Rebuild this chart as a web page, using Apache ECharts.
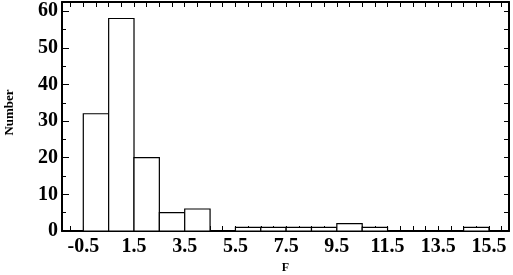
<!DOCTYPE html>
<html>
<head>
<meta charset="utf-8">
<script src="https://cdn.jsdelivr.net/npm/echarts@6/dist/echarts.min.js"></script>
<style>html,body{margin:0;padding:0;background:#fff}#c{width:513px;height:275px}</style>
</head>
<body>
<div id="c"></div>
<script>
// Histogram data: bin lower edges (width 1) and counts
var binStarts = [-0.5, 0.5, 1.5, 2.5, 3.5, 4.5, 5.5, 6.5, 7.5, 8.5, 9.5, 10.5, 11.5, 12.5, 13.5, 14.5];
var counts    = [32, 58, 20, 5, 6, 0, 1, 1, 1, 1, 2, 1, 0, 0, 0, 1];
var binWidth = 1;
var xLabels = [-0.5, 1.5, 3.5, 5.5, 7.5, 9.5, 11.5, 13.5, 15.5];
var xTicks = [];
for (var t = -1; t <= 16; t += 0.5) xTicks.push(t);
var yLabels = [0, 10, 20, 30, 40, 50, 60];
var yMinorTicks = [5, 15, 25, 35, 45, 55];
var yAllTicks = [0, 5, 10, 15, 20, 25, 30, 35, 40, 45, 50, 55, 60];

var XMIN = -1.34, XMAX = 16.29, YMAX = 62.5;
var font = 'Liberation Serif';
var lineStyle = {color: '#000', width: 2};

var data = binStarts.map(function (s, i) { return [s, s + binWidth, counts[i]]; });

var chart = echarts.init(document.getElementById('c'));
chart.setOption({
  animation: false,
  backgroundColor: '#fff',
  grid: {left: 62, top: 2, width: 447, height: 229, containLabel: false, outerBoundsMode: 'none'},
  xAxis: [{
    type: 'value', min: XMIN, max: XMAX, position: 'bottom',
    axisLine: {show: true, onZero: false, lineStyle: lineStyle},
    axisTick: {show: true, inside: true, length: 5, customValues: xTicks, lineStyle: {color: '#000', width: 1}},
    axisLabel: {customValues: xLabels, color: '#000', fontFamily: font, fontWeight: 'bold', fontSize: 20, margin: 6},
    splitLine: {show: false},
    name: 'F', nameLocation: 'middle', nameGap: 28,
    nameTextStyle: {color: '#000', fontFamily: font, fontWeight: 'bold', fontSize: 12, padding: [0, 0, 3, 0]}
  }, {
    type: 'value', min: XMIN, max: XMAX, position: 'top',
    axisLine: {show: true, onZero: false, lineStyle: lineStyle},
    axisTick: {show: true, inside: true, length: 5, customValues: xTicks, lineStyle: {color: '#000', width: 1}},
    axisLabel: {show: false},
    splitLine: {show: false}
  }],
  yAxis: [{
    type: 'value', min: 0, max: YMAX, position: 'left',
    axisLine: {show: true, onZero: false, lineStyle: lineStyle},
    axisTick: {show: true, inside: true, length: 7, customValues: yLabels, lineStyle: {color: '#000', width: 1}},
    axisLabel: {customValues: yLabels, color: '#000', fontFamily: font, fontWeight: 'bold', fontSize: 20, margin: 4},
    splitLine: {show: false},
    name: 'Number', nameLocation: 'middle', nameRotate: 90, nameGap: 46,
    nameTextStyle: {color: '#000', fontFamily: font, fontWeight: 'bold', fontSize: 13, padding: [0, 0, 0, 8]}
  }, {
    type: 'value', min: 0, max: YMAX, position: 'left',
    axisLine: {show: false, onZero: false},
    axisTick: {show: true, inside: true, length: 4, customValues: yMinorTicks, lineStyle: {color: '#000', width: 1}},
    axisLabel: {show: false},
    splitLine: {show: false}
  }, {
    type: 'value', min: 0, max: YMAX, position: 'right',
    axisLine: {show: true, onZero: false, lineStyle: lineStyle},
    axisTick: {show: true, inside: true, length: 5, customValues: yAllTicks, lineStyle: {color: '#000', width: 1}},
    axisLabel: {show: false},
    splitLine: {show: false}
  }],
  series: [{
    type: 'custom',
    xAxisIndex: 0, yAxisIndex: 0,
    data: data,
    encode: {x: [0, 1], y: 2},
    renderItem: function (params, api) {
      var v = api.value(2);
      if (!v) return null;
      var p0 = api.coord([api.value(0), 0]);
      var p1 = api.coord([api.value(1), v]);
      return {
        type: 'rect',
        shape: {x: p0[0], y: p1[1], width: p1[0] - p0[0], height: p0[1] - p1[1]},
        style: {fill: '#fff', stroke: '#000', lineWidth: 1.2}
      };
    }
  }]
});
</script>
</body>
</html>
